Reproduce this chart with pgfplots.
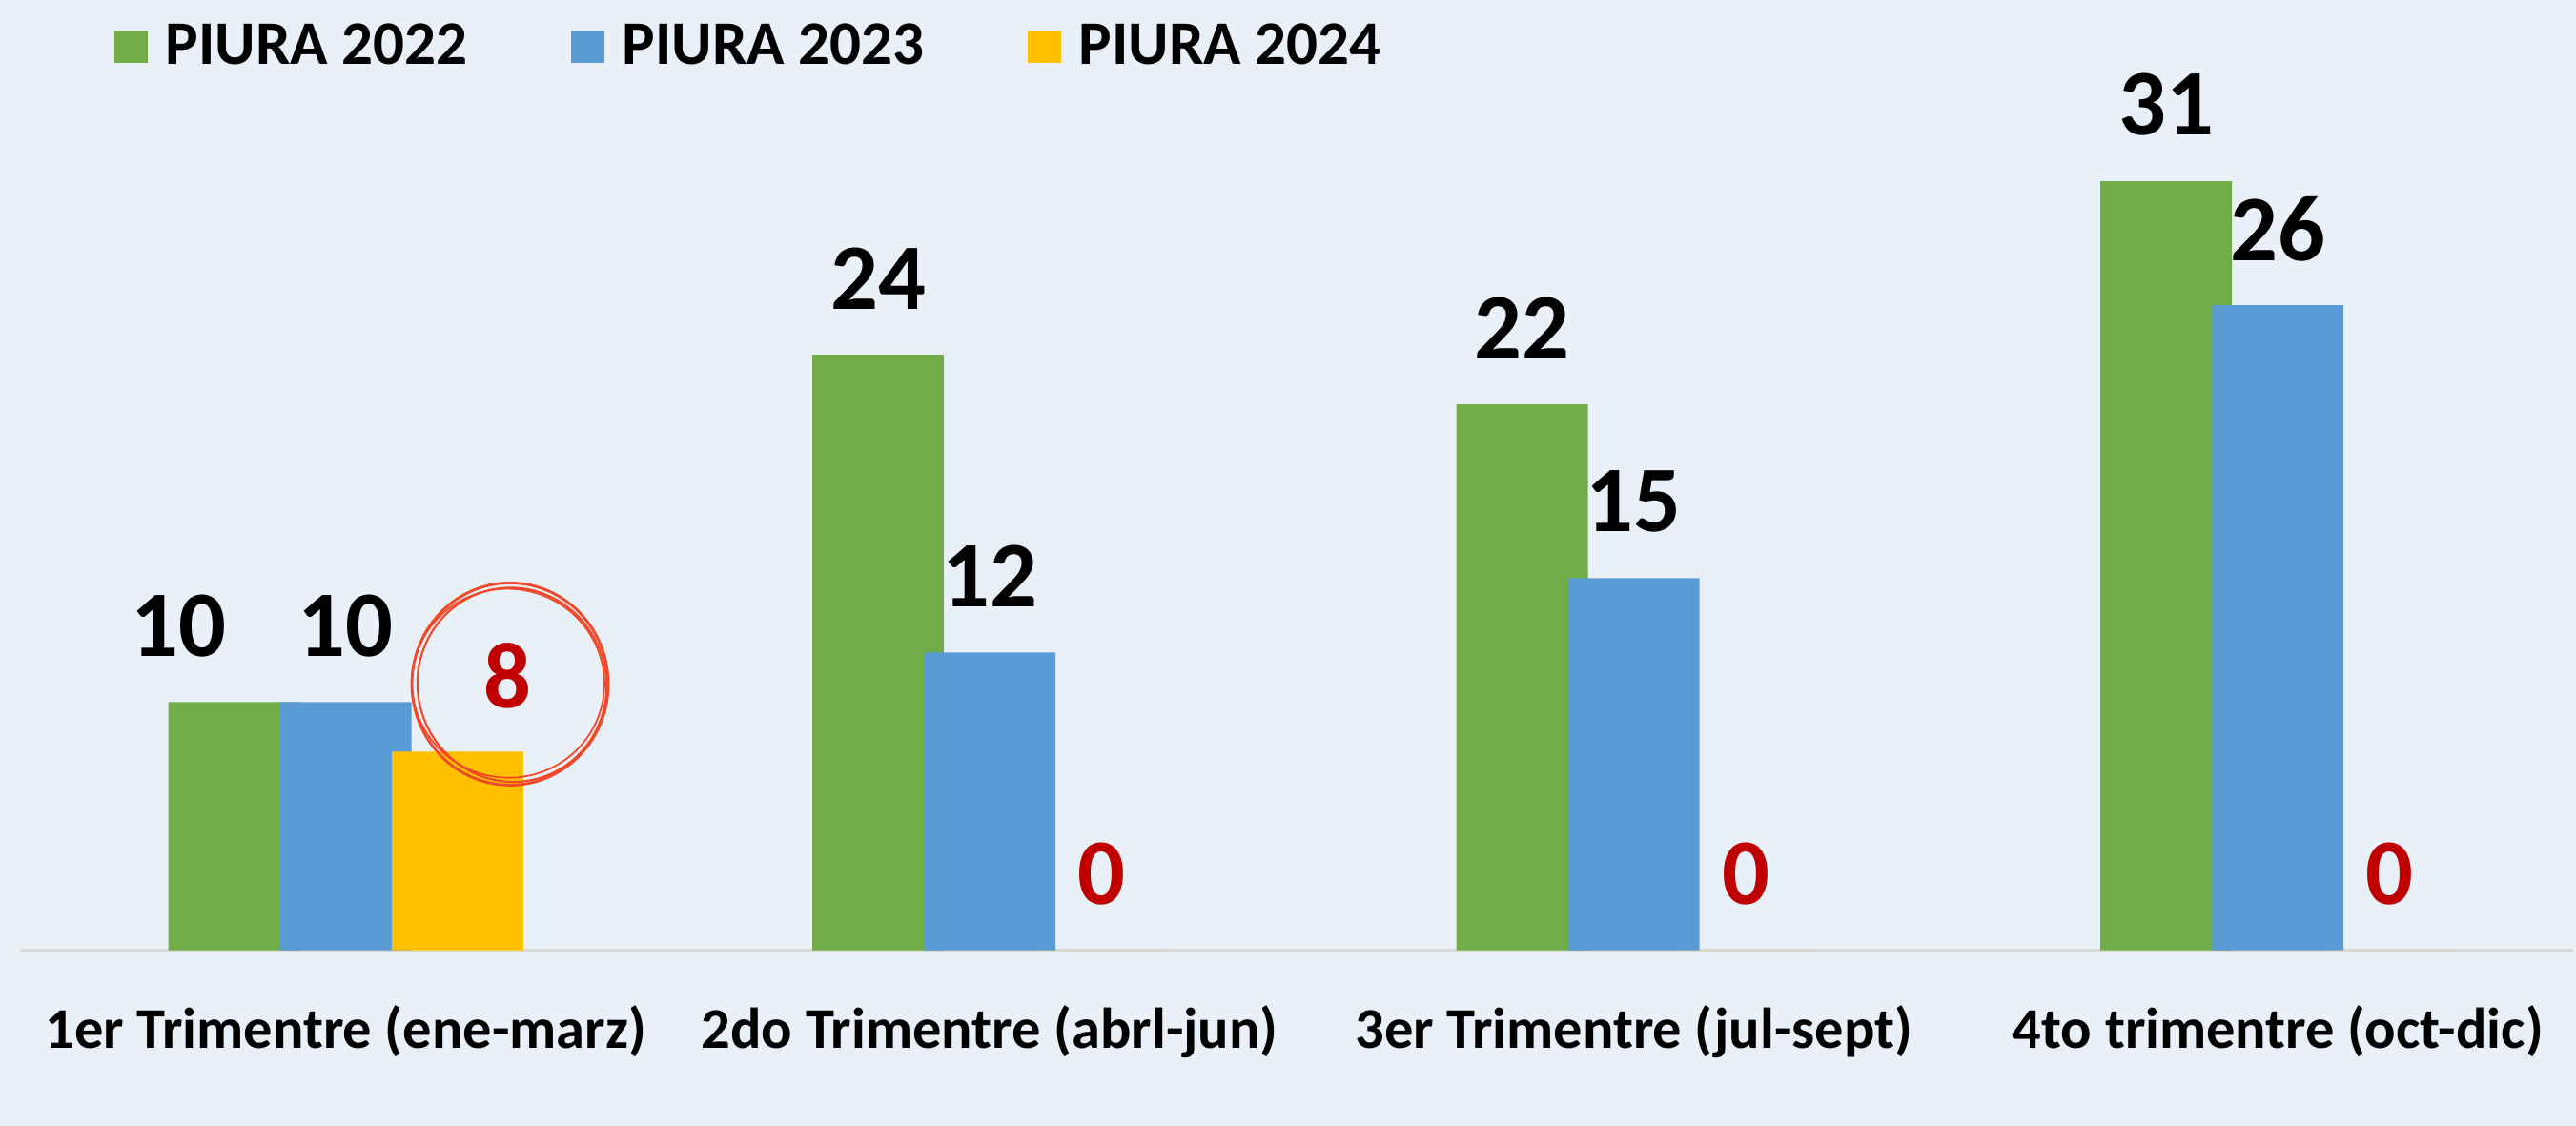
\documentclass[border=0pt]{standalone}
\usepackage{fontspec}
\setmainfont{Carlito}
\usepackage{pgfplots}
\usepackage{pgfplotstable}
\pgfplotsset{compat=1.18}
\definecolor{bg}{RGB}{233,240,248}
\definecolor{cgreen}{RGB}{112,173,71}
\definecolor{cblue}{RGB}{91,155,213}
\definecolor{cyellow}{RGB}{255,192,0}
\definecolor{cred}{RGB}{192,0,0}
\definecolor{ccircle}{RGB}{240,72,40}

\pgfplotstableread{
x y dx
-0.1735 10 -16.5
0.8265 24 0
1.8265 22 0
2.8265 31 0
}\tgreen
\pgfplotstableread{
x y dx
0 10 0
1 12 0
2 15 0
3 26 0
}\tblue
\pgfplotstableread{
x y dx
0.1735 8 15
1.1735 0 0
2.1735 0 0
3.1735 0 0
}\tyellow

\begin{document}
\begin{tikzpicture}
\fill[bg] (0,0) rectangle (27.02cm,11.81cm);
\begin{axis}[
  at={(0.2068cm,1.8438cm)}, anchor=south west,
  scale only axis, width=26.784cm, height=9.367cm,
  xmin=-0.5064, xmax=3.4586, ymin=0, ymax=36,
  axis x line=bottom, axis y line=none,
  x axis line style={-, draw=black!15, line width=1.2pt},
  xtick={0,1,2,3},
  xticklabels={1er Trimentre (ene-marz), 2do Trimentre (abrl-jun), 3er Trimentre (jul-sept), 4to trimentre (oct-dic)},
  major tick length=0pt,
  xticklabel style={font=\fontsize{17.2}{20}\selectfont\bfseries, anchor=base, yshift=-1.03cm},
  ytick=\empty,
  ybar, bar width=0.204, bar shift=0pt,
  legend image code/.code={\fill[#1] (0cm,-0.17cm) rectangle (0.35cm,0.17cm); \path (0.47cm,0);},
  legend columns=3,
  legend style={at={(0.0367,1.0117)}, anchor=west, draw=none, fill=none, inner xsep=0pt,
    font=\fontsize{18.5}{20}\selectfont\bfseries,
    /tikz/every even column/.append style={column sep=1.01cm}},
  nodes near coords,
  /pgf/number format/assume math mode=true,
  visualization depends on={\thisrow{dx}\as\dx},
  every node near coord/.append style={font=\fontsize{28}{30}\selectfont\bfseries, anchor=center, yshift=0.8cm, xshift=\dx pt},
]
\addplot[fill=cgreen, draw=none] table[x=x,y=y] {\tgreen};
\addlegendentry{PIURA 2022}
\addplot[fill=cblue, draw=none] table[x=x,y=y] {\tblue};
\addlegendentry{PIURA 2023}
\addplot[fill=cyellow, draw=none, nodes near coords style={text=cred}] table[x=x,y=y] {\tyellow};
\addlegendentry{PIURA 2024}
\draw[ccircle, line width=0.8pt] (axis cs:0.255,10.73) ellipse [x radius=1.03cm, y radius=1.06cm];
\draw[ccircle, line width=0.6pt] (axis cs:0.258,10.70) ellipse [x radius=0.99cm, y radius=1.02cm, rotate=15];
\draw[ccircle, line width=0.5pt] (axis cs:0.252,10.76) ellipse [x radius=1.01cm, y radius=0.99cm, rotate=-10];
\end{axis}
\pgfresetboundingbox
\path[use as bounding box] (0,0) rectangle (27.02cm,11.81cm);
\end{tikzpicture}
\end{document}
